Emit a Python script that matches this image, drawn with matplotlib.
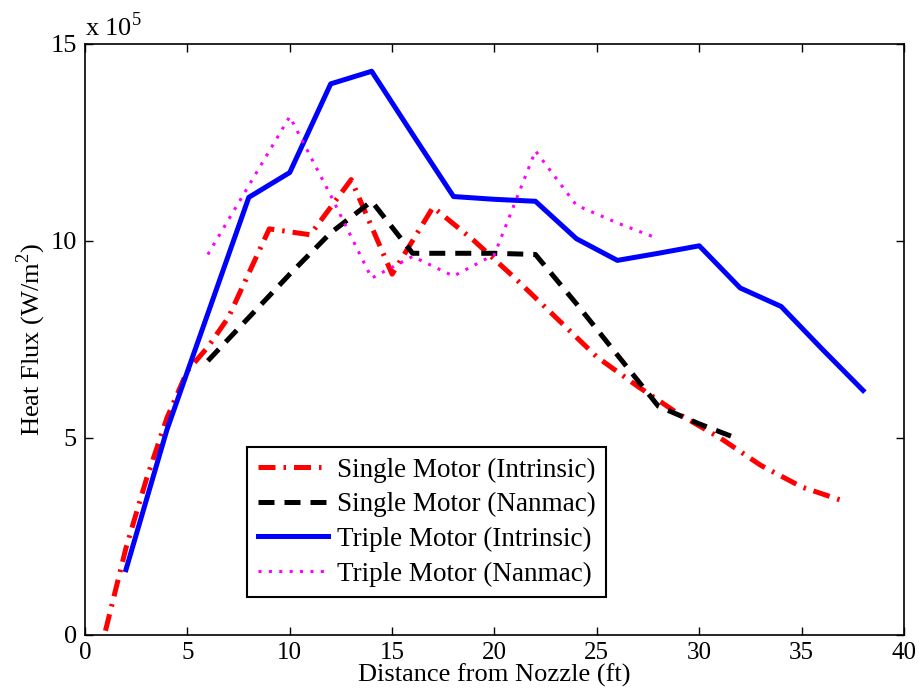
import matplotlib
matplotlib.use('Agg')
import matplotlib.pyplot as plt

# heat flux values in units of 1e5 W/m^2
x_single_intr = [1, 2, 3, 4, 5, 6, 7, 9, 11, 13, 15, 17, 19, 21, 23, 25, 27, 29, 31, 33, 35, 37]
y_single_intr = [0.1, 2.2, 3.95, 5.5, 6.7, 7.3, 8.05, 10.3, 10.15, 11.55, 9.15, 10.85, 10.0,
                 9.05, 8.05, 7.05, 6.3, 5.6, 5.0, 4.3, 3.75, 3.4]

x_single_nan = [6, 8, 10, 12, 14, 16, 18, 20, 22, 24, 26, 28, 30, 32]
y_single_nan = [6.95, 8.05, 9.15, 10.2, 11.0, 9.68, 9.68, 9.68, 9.65, 8.4, 7.1, 5.8, 5.35, 4.95]

x_triple_intr = [2, 4, 6, 8, 10, 12, 14, 16, 18, 20, 22, 24, 26, 28, 30, 32, 34, 36, 38]
y_triple_intr = [1.65, 5.2, 8.15, 11.1, 11.73, 13.98, 14.3, 12.7, 11.12, 11.05, 11.0, 10.05,
                 9.5, 9.68, 9.87, 8.8, 8.33, 7.25, 6.2]

x_triple_nan = [6, 8, 10, 12, 14, 16, 18, 20, 22, 24, 26, 28]
y_triple_nan = [9.65, 11.4, 13.15, 11.15, 9.05, 9.6, 9.1, 9.65, 12.28, 10.9, 10.45, 10.05]

labels = ['Single Motor (Intrinsic)', 'Single Motor (Nanmac)',
          'Triple Motor (Intrinsic)', 'Triple Motor (Nanmac)']

plt.rcParams['font.family'] = ['Liberation Serif', 'DejaVu Serif']
plt.rcParams['mathtext.fontset'] = 'custom'
plt.rcParams['mathtext.rm'] = 'Liberation Serif'
plt.rcParams['font.size'] = 19

fig = plt.figure(figsize=(9.2, 7.0), dpi=100)
ax = fig.add_axes([0.0924, 0.0933, 0.8902, 0.8443])

ax.plot(x_single_intr, y_single_intr, color='red', lw=3.6, dashes=(3.4, 1.6, 0.5, 1.6),
        label=labels[0])
ax.plot(x_single_nan, y_single_nan, color='black', lw=3.6, dashes=(3.2, 2.0),
        label=labels[1])
ax.plot(x_triple_intr, y_triple_intr, color='blue', lw=3.6, label=labels[2])
ax.plot(x_triple_nan, y_triple_nan, color='magenta', lw=2.2, dashes=(1.0, 2.4),
        label=labels[3])

ax.set_xlim(0, 40)
ax.set_ylim(0, 15)
ax.set_xticks(range(0, 41, 5))
ax.set_yticks([0, 5, 10, 15])
ax.tick_params(direction='in', top=True, right=True, length=6, width=1)
ax.tick_params(axis='x', pad=5, labelsize=18)
ax.tick_params(axis='y', pad=6)
for s in ax.spines.values():
    s.set_linewidth(1.2)

ax.set_xlabel('Distance from Nozzle (ft)', labelpad=0)
ax.set_ylabel('Heat Flux (W/m$^2$)', labelpad=2)
ax.text(0.0, 1.005, r'x 10$^5$', transform=ax.transAxes, ha='left', va='bottom')

leg = ax.legend(loc='upper left', bbox_to_anchor=(0.198, 0.318), fancybox=False,
                framealpha=1, edgecolor='black', handlelength=2.6, handletextpad=0.3,
                labelspacing=0.35, borderpad=0.4, borderaxespad=0, fontsize=19.5)
leg.get_frame().set_linewidth(1.5)

fig.savefig('out.png', dpi=100)
